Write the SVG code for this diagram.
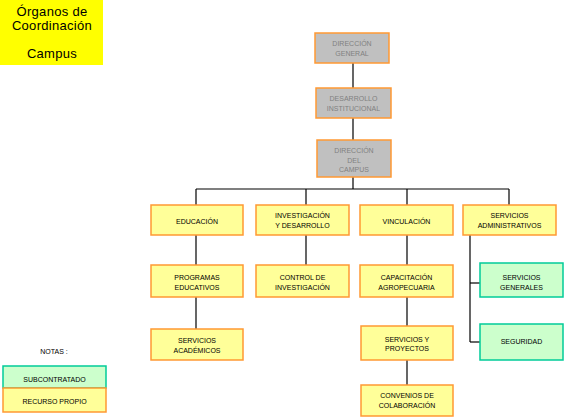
<svg xmlns="http://www.w3.org/2000/svg" width="564" height="417" viewBox="0 0 564 417">
<style>
.y{fill:#ffff99;stroke:#ff9933;stroke-width:1.5}
.g{fill:#ccffcc;stroke:#00cc99;stroke-width:1.5}
.s{fill:#c0c0c0;stroke:#ff9933;stroke-width:1.5}
text{font-family:"Liberation Sans",Arial,sans-serif;font-size:7px;text-anchor:middle;fill:#000}
.gt{fill:#808080}
.tt{font-size:13px;letter-spacing:0.3px}
#connectors line{stroke:#000;stroke-width:1.2;fill:none}
</style>
<rect width="564" height="417" fill="#fff"/>
<g id="title">
<rect x="0" y="0" width="103" height="65" fill="#ffff00"/>
<text class="tt" x="52" y="16">Órganos de</text>
<text class="tt" x="52" y="30">Coordinación</text>
<text class="tt" x="52" y="58">Campus</text>
</g>
<g id="connectors">
<line x1="353" y1="63" x2="353" y2="88"/>
<line x1="353" y1="118" x2="353" y2="140"/>
<line x1="353" y1="177" x2="353" y2="189"/>
<line x1="196" y1="189" x2="509" y2="189"/>
<line x1="196" y1="189" x2="196" y2="205"/>
<line x1="306" y1="189" x2="306" y2="205"/>
<line x1="407" y1="189" x2="407" y2="205"/>
<line x1="509" y1="189" x2="509" y2="205"/>
<line x1="196" y1="235" x2="196" y2="265"/>
<line x1="196" y1="297" x2="196" y2="329"/>
<line x1="306" y1="235" x2="306" y2="265"/>
<line x1="407" y1="235" x2="407" y2="265"/>
<line x1="407" y1="297" x2="407" y2="326"/>
<line x1="407" y1="360" x2="407" y2="385"/>
<line x1="470" y1="235" x2="470" y2="342"/>
<line x1="470" y1="283" x2="480" y2="283"/>
<line x1="470" y1="342" x2="480" y2="342"/>
</g>
<g id="direccion-general">
<rect class="s" x="315" y="33" width="74" height="30"/>
<text class="gt" x="352" y="45.5">DIRECCIÓN</text>
<text class="gt" x="352" y="55.5">GENERAL</text>
</g>
<g id="desarrollo-institucional">
<rect class="s" x="316" y="88" width="75" height="30"/>
<text class="gt" x="353.5" y="100.5">DESARROLLO</text>
<text class="gt" x="353.5" y="110.5">INSTITUCIONAL</text>
</g>
<g id="direccion-campus">
<rect class="s" x="317" y="140" width="74" height="37"/>
<text class="gt" x="354" y="153">DIRECCIÓN</text>
<text class="gt" x="354" y="162.5">DEL</text>
<text class="gt" x="354" y="172">CAMPUS</text>
</g>
<g id="educacion">
<rect class="y" x="151" y="205" width="92" height="30"/>
<text x="197" y="224">EDUCACIÓN</text>
</g>
<g id="investigacion">
<rect class="y" x="256" y="205" width="93" height="30"/>
<text x="302.5" y="217.5">INVESTIGACIÓN</text>
<text x="302.5" y="228">Y DESARROLLO</text>
</g>
<g id="vinculacion">
<rect class="y" x="360" y="205" width="93" height="30"/>
<text x="406.5" y="224">VINCULACIÓN</text>
</g>
<g id="servicios-administrativos">
<rect class="y" x="463" y="205" width="93" height="30"/>
<text x="509.5" y="217.5">SERVICIOS</text>
<text x="509.5" y="228">ADMINISTRATIVOS</text>
</g>
<g id="programas-educativos">
<rect class="y" x="151" y="265" width="92" height="32"/>
<text x="197" y="280">PROGRAMAS</text>
<text x="197" y="290">EDUCATIVOS</text>
</g>
<g id="control-investigacion">
<rect class="y" x="256" y="265" width="93" height="32"/>
<text x="302.5" y="280">CONTROL DE</text>
<text x="302.5" y="290">INVESTIGACIÓN</text>
</g>
<g id="capacitacion">
<rect class="y" x="360" y="265" width="93" height="32"/>
<text x="406.5" y="280">CAPACITACIÓN</text>
<text x="406.5" y="290">AGROPECUARIA</text>
</g>
<g id="servicios-generales">
<rect class="g" x="480" y="263" width="83" height="34"/>
<text x="521.5" y="279.5">SERVICIOS</text>
<text x="521.5" y="290">GENERALES</text>
</g>
<g id="servicios-academicos">
<rect class="y" x="151" y="329" width="92" height="31"/>
<text x="197" y="343">SERVICIOS</text>
<text x="197" y="353">ACADÉMICOS</text>
</g>
<g id="servicios-proyectos">
<rect class="y" x="361" y="326" width="92" height="34"/>
<text x="407" y="341.5">SERVICIOS Y</text>
<text x="407" y="351">PROYECTOS</text>
</g>
<g id="seguridad">
<rect class="g" x="480" y="324" width="83" height="36"/>
<text x="521.5" y="344">SEGURIDAD</text>
</g>
<g id="convenios">
<rect class="y" x="361" y="385" width="92" height="31"/>
<text x="407" y="398">CONVENIOS DE</text>
<text x="407" y="408">COLABORACIÓN</text>
</g>
<g id="notas">
<text x="54" y="354">NOTAS :</text>
<rect class="g" x="3" y="366" width="103" height="22"/>
<text x="54.5" y="381.5">SUBCONTRATADO</text>
<rect class="y" x="3" y="388" width="103" height="24"/>
<text x="54.5" y="404">RECURSO PROPIO</text>
</g>
</svg>
